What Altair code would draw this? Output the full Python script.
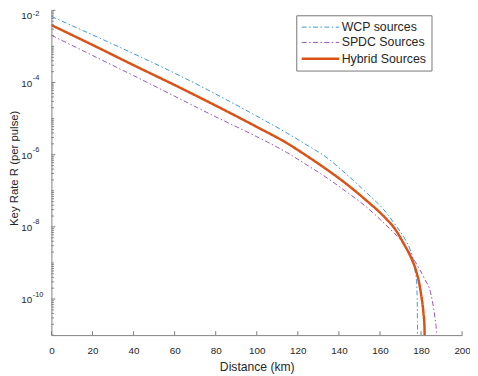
import altair as alt
import pandas as pd

series_names = ["WCP sources", "SPDC Sources", "Hybrid Sources"]
series_colors = ["#3a96d8", "#9a55b5", "#d95319"]

wcp_km = [0, 20, 40, 60, 80, 100, 115, 124, 133.6, 143.2, 152.8, 162.4, 167.2, 172, 174.4,
          176, 177.1, 177.8, 178.1, 178.25, 178.3]
wcp_rate = [6.76e-3, 2.09e-3, 6.31e-4, 1.82e-4, 4.79e-5, 1.17e-5, 3.89e-6, 1.91e-6, 8.71e-7,
            3.02e-7, 9.55e-8, 2.75e-8, 1.20e-8, 4.79e-9, 2.57e-9, 1.38e-9, 6.03e-10, 3.24e-10,
            1.12e-10, 2.5e-11, 1e-14]

spdc_km = [0, 20, 40, 60, 80, 100, 115, 124, 133.6, 143.2, 152.8, 162.4, 167.2, 172, 176.8,
           181.6, 184.8, 186.7, 187.5, 187.8]
spdc_rate = [2.04e-3, 5.62e-4, 1.55e-4, 4.17e-5, 1.12e-5, 3.16e-6, 1.12e-6, 5.37e-7, 2.40e-7,
             9.77e-8, 3.80e-8, 1.20e-8, 6.46e-9, 3.16e-9, 1.17e-9, 3.72e-10, 1.38e-10, 3.24e-11,
             1.26e-11, 1e-14]

hybrid_km = [0, 20, 40, 60, 80, 100, 115, 124, 133.6, 143.2, 152.8, 162.4, 167.2, 172, 175.2,
             177.6, 179.2, 180.1, 181.2, 181.7, 181.9]
hybrid_rate = [3.89e-3, 1.10e-3, 3.02e-4, 8.51e-5, 2.29e-5, 5.89e-6, 2.04e-6, 9.55e-7, 4.07e-7,
               1.62e-7, 5.75e-8, 1.82e-8, 8.91e-9, 3.09e-9, 1.38e-9, 6.03e-10, 2.57e-10,
               1.26e-10, 3.98e-11, 1.58e-11, 1e-14]

x_ticks = [0, 20, 40, 60, 80, 100, 120, 140, 160, 180, 200]
y_major = [1e-2, 1e-4, 1e-6, 1e-8, 1e-10]
y_exponents = ["-2", "-4", "-6", "-8", "-10"]
y_minor = [m * 10.0 ** e for e in range(-11, -2) for m in range(1, 10)
           if not (m == 1 and e % 2 == 0)]

rows = []
for name, kms, rates in [(series_names[0], wcp_km, wcp_rate),
                         (series_names[1], spdc_km, spdc_rate),
                         (series_names[2], hybrid_km, hybrid_rate)]:
    for k, r in zip(kms, rates):
        rows.append({"series": name, "km": k, "rate": r})
df = pd.DataFrame(rows)

ylab = pd.DataFrame({"rate": y_major, "exp": y_exponents, "base": ["10"] * len(y_major)})

W, H = 416, 329
axis_color = "#7f7f7f"
text_color = "#262626"
FONT = "Liberation Sans"

xscale = alt.Scale(domain=[0, 200], nice=False, zero=False)
yscale = alt.Scale(type="log", domain=[1e-11, 1e-2], nice=False)

x_axis = alt.Axis(values=x_ticks, title="Distance (km)", ticks=False, grid=False,
                  domainColor=axis_color, domainWidth=1, labelFlush=False,
                  labelFontSize=10, labelColor=text_color, labelPadding=11,
                  titleFontSize=12.3, titleFontWeight="normal", titleColor=text_color,
                  titlePadding=5, labelFont=FONT, titleFont=FONT)
y_axis = alt.Axis(values=y_major, labels=False, title="Key Rate R (per pulse)",
                  ticks=False, grid=False, domainColor=axis_color, domainWidth=1,
                  titleFontSize=11.5, titleFontWeight="normal", titleColor=text_color,
                  titleX=-32.5, titleY=159.5, titleAngle=270, titleBaseline="bottom",
                  titleFont=FONT)

dash = [5, 2.5, 1.5, 2.5]

lines = alt.Chart(df).mark_line(clip=True, interpolate="monotone").encode(
    x=alt.X("km:Q", scale=xscale, axis=x_axis),
    y=alt.Y("rate:Q", scale=yscale, axis=y_axis),
    color=alt.Color("series:O", scale=alt.Scale(domain=series_names, range=series_colors),
                    legend=alt.Legend(title=None)),
    strokeDash=alt.StrokeDash("series:O", scale=alt.Scale(domain=series_names,
                                                          range=[dash, dash, [1, 0]]),
                              legend=alt.Legend(title=None)),
    strokeWidth=alt.StrokeWidth("series:O", scale=alt.Scale(type="ordinal", domain=series_names,
                                                            range=[1, 1, 2.5]),
                                legend=alt.Legend(title=None)),
)

xt = alt.Chart(pd.DataFrame({"km": x_ticks})).mark_rule(color=axis_color, strokeWidth=1).encode(
    x=alt.X("km:Q", scale=xscale, axis=x_axis), y=alt.value(H - 4), y2=alt.value(H))
yt_major = alt.Chart(pd.DataFrame({"rate": y_major})).mark_rule(color=axis_color, strokeWidth=1).encode(
    y=alt.Y("rate:Q", scale=yscale, axis=y_axis), x=alt.value(0), x2=alt.value(4))
yt_minor = alt.Chart(pd.DataFrame({"rate": y_minor})).mark_rule(color=axis_color, strokeWidth=1).encode(
    y=alt.Y("rate:Q", scale=yscale, axis=y_axis), x=alt.value(0), x2=alt.value(2.5))

lab_base = alt.Chart(ylab)
base_rest = lab_base.transform_filter("datum.rate < 0.005").mark_text(
    align="right", baseline="middle", fontSize=10, font=FONT, color=text_color, dy=1.5
).encode(y=alt.Y("rate:Q", scale=yscale, axis=y_axis), x=alt.value(-19.5), text="base:N")
exp_rest = lab_base.transform_filter("datum.rate < 0.005").mark_text(
    align="left", baseline="middle", fontSize=7.5, font=FONT, color=text_color, dy=-4.5
).encode(y=alt.Y("rate:Q", scale=yscale, axis=y_axis), x=alt.value(-19), text="exp:N")
base_top = lab_base.transform_filter("datum.rate > 0.005").mark_text(
    align="right", baseline="middle", fontSize=10, font=FONT, color=text_color, dy=6
).encode(y=alt.Y("rate:Q", scale=yscale, axis=y_axis), x=alt.value(-19.5), text="base:N")
exp_top = lab_base.transform_filter("datum.rate > 0.005").mark_text(
    align="left", baseline="middle", fontSize=7.5, font=FONT, color=text_color, dy=3.5
).encode(y=alt.Y("rate:Q", scale=yscale, axis=y_axis), x=alt.value(-19), text="exp:N")

chart = alt.layer(lines, xt, yt_major, yt_minor, base_rest, exp_rest, base_top, exp_top).properties(
    width=W, height=H,
    autosize=alt.AutoSizeParams(type="none"),
    padding={"left": 44, "top": 0, "right": 8, "bottom": 37},
).configure(font=FONT).configure_view(stroke=None).configure_legend(
    orient="none", legendX=248, legendY=5, fillColor="white", strokeColor="#777777",
    padding=5, symbolType="M-2.92,0H2.92", symbolSize=169, symbolOffset=11.5,
    labelFontSize=12.5, labelColor=text_color, labelFont=FONT,
    labelOffset=13.5, rowPadding=1.5, cornerRadius=0,
)

chart.save("out.html", embed_options={"renderer": "svg", "actions": False})
